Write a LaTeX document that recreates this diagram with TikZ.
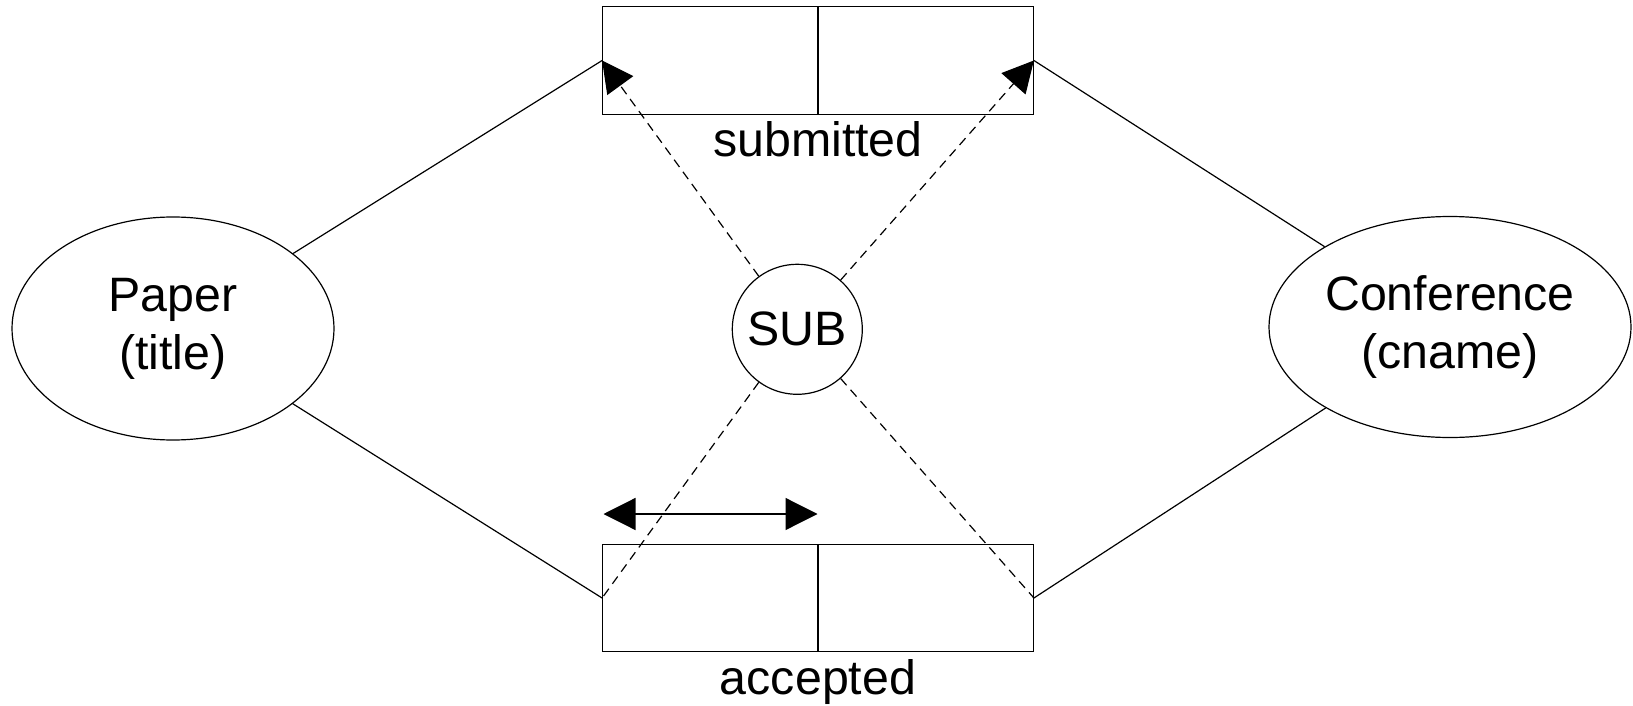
\documentclass[tikz,border=0pt]{standalone}
\usepackage{fontspec}
\setmainfont{Liberation Sans}
\usetikzlibrary{shapes.geometric,arrows.meta}
\begin{document}
\begin{tikzpicture}[x=1pt,y=-1pt,
  every node/.style={font=\fontsize{48.3}{58}\selectfont},
  thinline/.style={line width=1.2pt},
  entity/.style={ellipse,draw,thinline,inner sep=0pt,align=center},
  cell/.style={rectangle,draw,thinline,inner sep=0pt,minimum width=215.3pt,minimum height=107.6pt},
  rel/.style={circle,draw,thinline,inner sep=0pt,minimum size=130pt},
  link/.style={thinline},
  dlink/.style={thinline,dash pattern=on 9pt off 6pt},
  tip/.style={-{Triangle[length=31pt,width=32pt]}}
]
\useasboundingbox (0,0) rectangle (1633,706);
\fill[white] (0,0) rectangle (1633,706);
\node[entity,minimum width=322pt,minimum height=223pt] (paper) at (173,328.5) {Paper\\(title)};
\node[entity,minimum width=362pt,minimum height=221pt] (conf) at (1450,327) {Conference\\(cname)};
\node[rel] (sub) at (797.3,329.3) {SUB};
\node[cell] (t1) at (710.35,60.5) {};
\node[cell] (t2) at (925.65,60.5) {};
\node[cell] (b1) at (710.35,598) {};
\node[cell] (b2) at (925.65,598) {};
\node[anchor=base] (lsub) at (818,157) {submitted};
\node[anchor=base] (lacc) at (818,694) {accepted};
\coordinate (dl) at (603.5,514);
\coordinate (dr) at (817.5,514);
\draw[link] (paper) -- (t1.west);
\draw[link] (paper) -- (b1.west);
\draw[link] (conf) -- (t2.east);
\draw[link] (conf) -- (b2.east);
\draw[dlink,tip] (sub) -- (t1.west);
\draw[dlink,tip] (sub) -- (t2.east);
\draw[dlink] (sub) -- (b1.west);
\draw[dlink] (sub) -- (b2.east);
\draw[thinline,{Triangle[length=32pt,width=32pt]}-{Triangle[length=32pt,width=32pt]}] (dl) -- (dr);
\end{tikzpicture}
\end{document}
